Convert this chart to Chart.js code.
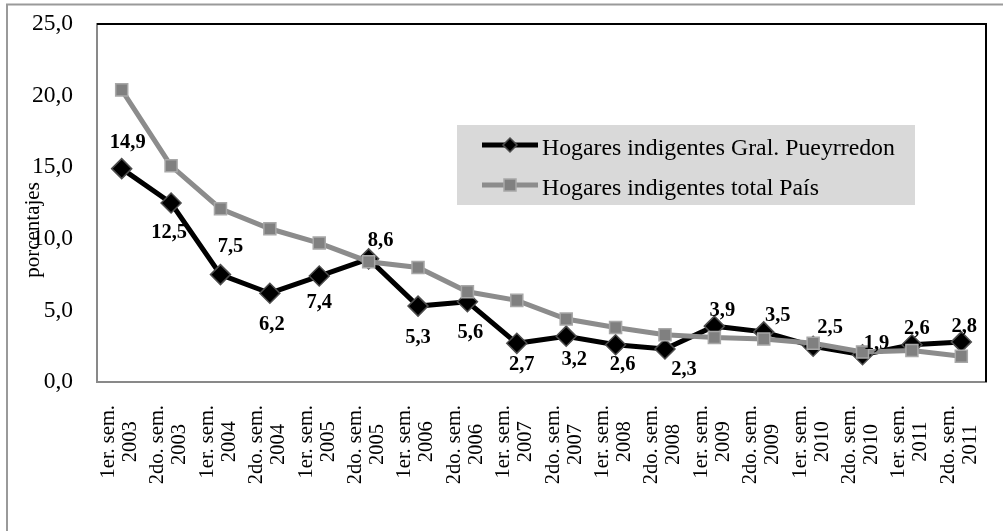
<!DOCTYPE html>
<html>
<head>
<meta charset="utf-8">
<script src="https://cdn.jsdelivr.net/npm/chart.js@4.4.0/dist/chart.umd.min.js"></script>
<style>
  html, body { margin: 0; padding: 0; background: #fff; }
  #wrap { width: 1003px; height: 531px; }
</style>
</head>
<body>
<div id="wrap"><canvas id="chart" width="1003" height="531"></canvas></div>
<script>
// data
const categories = [
  ['1er. sem.', '2003'], ['2do. sem.', '2003'],
  ['1er. sem.', '2004'], ['2do. sem.', '2004'],
  ['1er. sem.', '2005'], ['2do. sem.', '2005'],
  ['1er. sem.', '2006'], ['2do. sem.', '2006'],
  ['1er. sem.', '2007'], ['2do. sem.', '2007'],
  ['1er. sem.', '2008'], ['2do. sem.', '2008'],
  ['1er. sem.', '2009'], ['2do. sem.', '2009'],
  ['1er. sem.', '2010'], ['2do. sem.', '2010'],
  ['1er. sem.', '2011'], ['2do. sem.', '2011']
];
const pueyrredon = [14.9, 12.5, 7.5, 6.2, 7.4, 8.6, 5.3, 5.6, 2.7, 3.2, 2.6, 2.3, 3.9, 3.5, 2.5, 1.9, 2.6, 2.8];
const totalPais = [20.4, 15.1, 12.1, 10.7, 9.7, 8.4, 8.0, 6.3, 5.7, 4.4, 3.8, 3.3, 3.1, 3.0, 2.7, 2.1, 2.2, 1.8];
const yTicks = [0, 5, 10, 15, 20, 25];
const seriesNames = ['Hogares indigentes Gral. Pueyrredon', 'Hogares indigentes total País'];
const yTitle = 'porcentajes';

// where each value label sits relative to its point (dx, dy in px)
const labelOffsets = [[6,-28],[-2,28],[10,-30],[2,30],[0,25],[12,-20],[0,30],[3,29],[5,20],
  [8,22],[7,18],[19,19],[8,-17],[14,-18],[17,-20],[14,-13],[5,-18],[3,-17]];

const serif = '"Liberation Serif", "Times New Roman", serif';
const fmt = v => v.toFixed(1).replace('.', ',');

const extras = {
  id: 'extras',
  beforeDraw(chart) {
    const ctx = chart.ctx;
    ctx.save();
    ctx.strokeStyle = '#9a9a9a';
    ctx.lineWidth = 2;
    ctx.strokeRect(7, 4.5, 1100, 600);
    ctx.restore();
  },
  afterDraw(chart) {
    const ctx = chart.ctx;
    const a = chart.chartArea;
    const x = chart.scales.x;
    ctx.save();
    // top and right frame of the plot
    ctx.strokeStyle = '#000';
    ctx.lineWidth = 2;
    ctx.beginPath();
    ctx.moveTo(a.left, a.top);
    ctx.lineTo(a.right, a.top);
    ctx.lineTo(a.right, a.bottom);
    ctx.stroke();

    // category labels, rotated, lines centred on each other
    ctx.fillStyle = '#000';
    ctx.font = '20.5px ' + serif;
    ctx.textAlign = 'center';
    ctx.textBaseline = 'middle';
    categories.forEach((lines, i) => {
      const px = x.getPixelForValue(i);
      const w = Math.max(...lines.map(l => ctx.measureText(l).width));
      ctx.save();
      ctx.translate(px - 2, a.bottom + 23 + w / 2);
      ctx.rotate(-Math.PI / 2);
      lines.forEach((l, k) => ctx.fillText(l, 0, (k - (lines.length - 1) / 2) * 22));
      ctx.restore();
    });

    // axis title
    ctx.save();
    ctx.translate(33, 230);
    ctx.rotate(-Math.PI / 2);
    ctx.font = '21px ' + serif;
    ctx.fillText(yTitle, 0, 0);
    ctx.restore();

    // legend
    ctx.fillStyle = '#d9d9d9';
    ctx.fillRect(457, 125, 458, 80);
    const rows = [145, 185];
    chart.data.datasets.forEach((ds, i) => {
      const y = rows[i];
      ctx.strokeStyle = ds.borderColor;
      ctx.lineWidth = 5;
      ctx.beginPath();
      ctx.moveTo(482, y);
      ctx.lineTo(538, y);
      ctx.stroke();
      ctx.fillStyle = ds.pointBackgroundColor;
      ctx.strokeStyle = ds.pointBorderColor;
      ctx.lineWidth = 1.5;
      ctx.beginPath();
      if (ds.pointStyle === 'rectRot') {
        ctx.moveTo(510, y - 7); ctx.lineTo(517, y); ctx.lineTo(510, y + 7); ctx.lineTo(503, y);
      } else {
        ctx.rect(504, y - 6, 12, 12);
      }
      ctx.closePath();
      ctx.fill();
      ctx.stroke();
      ctx.fillStyle = '#000';
      ctx.font = '23.8px ' + serif;
      ctx.textAlign = 'left';
      ctx.textBaseline = 'alphabetic';
      ctx.fillText(ds.label, 542, y + 9.5);
    });
    ctx.restore();
  },
  afterDatasetsDraw(chart) {
    const ctx = chart.ctx;
    const meta = chart.getDatasetMeta(0);
    ctx.save();
    ctx.font = 'bold 20.5px ' + serif;
    ctx.fillStyle = '#000';
    ctx.textAlign = 'center';
    ctx.textBaseline = 'alphabetic';
    meta.data.forEach((pt, i) => {
      const [dx, dy] = labelOffsets[i];
      ctx.fillText(fmt(pueyrredon[i]), pt.x + dx, pt.y + dy + 7);
    });
    ctx.restore();
  }
};

new Chart(document.getElementById('chart'), {
  type: 'line',
  data: {
    labels: categories,
    datasets: [
      {
        label: seriesNames[0],
        data: pueyrredon,
        borderColor: '#000',
        borderWidth: 5,
        pointStyle: 'rectRot',
        pointRadius: 10,
        pointBackgroundColor: '#000',
        pointBorderColor: '#4d4d4d',
        pointBorderWidth: 1.5,
        tension: 0,
        order: 1
      },
      {
        label: seriesNames[1],
        data: totalPais,
        borderColor: '#8c8c8c',
        borderWidth: 5,
        pointStyle: 'rect',
        pointRadius: 8.5,
        pointBackgroundColor: '#808080',
        pointBorderColor: '#a8a8a8',
        pointBorderWidth: 1.5,
        tension: 0,
        order: 0
      }
    ]
  },
  options: {
    responsive: false,
    animation: false,
    events: [],
    layout: { padding: { top: 24, right: 17, bottom: 0, left: 0 } },
    plugins: { legend: { display: false }, tooltip: { enabled: false } },
    scales: {
      x: {
        offset: true,
        grid: { display: false, drawTicks: false },
        border: { display: true, color: '#898989', width: 2 },
        ticks: { display: false },
        afterFit(scale) {
          scale.height = 149;
          scale.paddingLeft = 0;
          scale.paddingRight = 0;
        }
      },
      y: {
        min: 0,
        max: 25,
        grid: { display: false, drawTicks: false },
        border: { display: true, color: '#898989', width: 2 },
        afterBuildTicks(scale) { scale.ticks = yTicks.map(v => ({ value: v })); },
        ticks: {
          padding: 24,
          color: '#000',
          font: { family: serif, size: 23.5 },
          callback: v => fmt(v)
        },
        afterFit(scale) {
          scale.width = 97;
          scale.paddingTop = 0;
          scale.paddingBottom = 0;
        }
      }
    }
  },
  plugins: [extras]
});
</script>
</body>
</html>
